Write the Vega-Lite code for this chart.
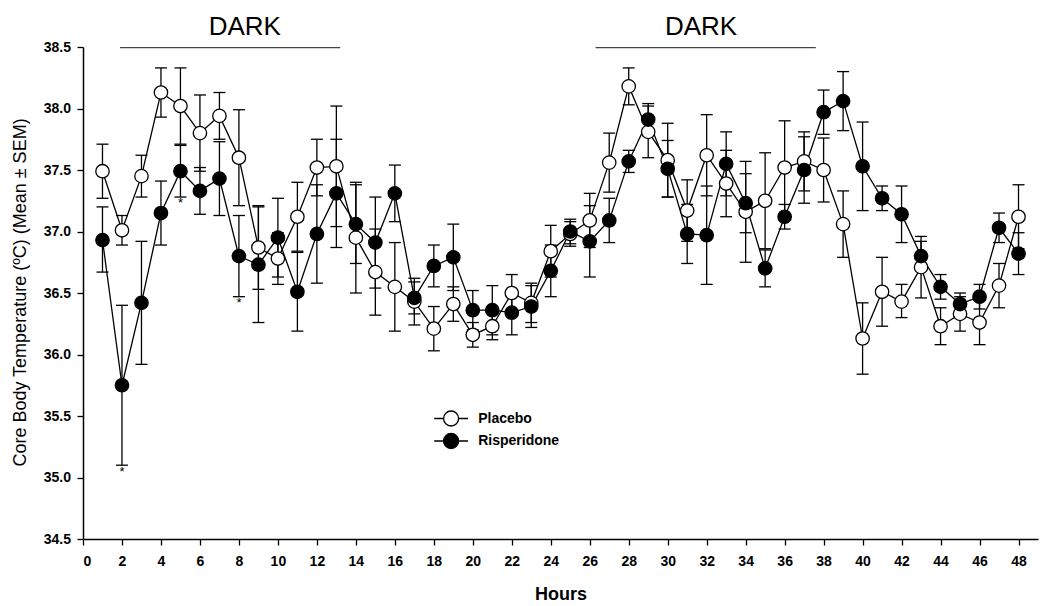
{
  "$schema": "https://vega.github.io/schema/vega-lite/v6.json",
  "width": 955,
  "height": 492,
  "autosize": {"type": "none"},
  "padding": {"left": 83, "top": 47, "right": 12, "bottom": 67},
  "background": "white",
  "config": {
    "view": {"stroke": null},
    "font": "Liberation Sans",
    "axis": {
      "grid": false,
      "domainColor": "black",
      "domainWidth": 1.5,
      "tickColor": "black",
      "tickWidth": 1.3,
      "tickSize": 6,
      "labelFont": "Liberation Sans",
      "labelFontWeight": "bold",
      "labelFontSize": 14,
      "labelColor": "black",
      "labelOverlap": false,
      "titleColor": "black",
      "titleFont": "Liberation Sans"
    },
    "axisX": {"tickCount": 25},
    "axisY": {"tickCount": 9}
  },
  "datasets": {
    "temp": [
      {"h":1,"g":"Placebo","m":37.49,"lo":37.27,"hi":37.71},
      {"h":2,"g":"Placebo","m":37.01,"lo":36.89,"hi":37.13},
      {"h":3,"g":"Placebo","m":37.45,"lo":37.28,"hi":37.62},
      {"h":4,"g":"Placebo","m":38.13,"lo":37.93,"hi":38.33},
      {"h":5,"g":"Placebo","m":38.02,"lo":37.71,"hi":38.33},
      {"h":6,"g":"Placebo","m":37.80,"lo":37.49,"hi":38.11},
      {"h":7,"g":"Placebo","m":37.94,"lo":37.75,"hi":38.13},
      {"h":8,"g":"Placebo","m":37.60,"lo":37.21,"hi":37.99},
      {"h":9,"g":"Placebo","m":36.87,"lo":36.53,"hi":37.21},
      {"h":10,"g":"Placebo","m":36.78,"lo":36.57,"hi":36.99},
      {"h":11,"g":"Placebo","m":37.12,"lo":36.84,"hi":37.40},
      {"h":12,"g":"Placebo","m":37.52,"lo":37.29,"hi":37.75},
      {"h":13,"g":"Placebo","m":37.53,"lo":37.04,"hi":38.02},
      {"h":14,"g":"Placebo","m":36.95,"lo":36.50,"hi":37.40},
      {"h":15,"g":"Placebo","m":36.67,"lo":36.32,"hi":37.02},
      {"h":16,"g":"Placebo","m":36.55,"lo":36.19,"hi":36.91},
      {"h":17,"g":"Placebo","m":36.43,"lo":36.24,"hi":36.62},
      {"h":18,"g":"Placebo","m":36.21,"lo":36.03,"hi":36.39},
      {"h":19,"g":"Placebo","m":36.41,"lo":36.27,"hi":36.55},
      {"h":20,"g":"Placebo","m":36.16,"lo":36.06,"hi":36.26},
      {"h":21,"g":"Placebo","m":36.23,"lo":36.12,"hi":36.34},
      {"h":22,"g":"Placebo","m":36.50,"lo":36.35,"hi":36.65},
      {"h":23,"g":"Placebo","m":36.42,"lo":36.26,"hi":36.58},
      {"h":24,"g":"Placebo","m":36.84,"lo":36.63,"hi":37.05},
      {"h":25,"g":"Placebo","m":36.98,"lo":36.88,"hi":37.08},
      {"h":26,"g":"Placebo","m":37.09,"lo":36.87,"hi":37.31},
      {"h":27,"g":"Placebo","m":37.56,"lo":37.32,"hi":37.80},
      {"h":28,"g":"Placebo","m":38.18,"lo":38.03,"hi":38.33},
      {"h":29,"g":"Placebo","m":37.81,"lo":37.60,"hi":38.02},
      {"h":30,"g":"Placebo","m":37.58,"lo":37.28,"hi":37.88},
      {"h":31,"g":"Placebo","m":37.17,"lo":36.92,"hi":37.42},
      {"h":32,"g":"Placebo","m":37.62,"lo":37.29,"hi":37.95},
      {"h":33,"g":"Placebo","m":37.39,"lo":37.12,"hi":37.66},
      {"h":34,"g":"Placebo","m":37.16,"lo":36.75,"hi":37.57},
      {"h":35,"g":"Placebo","m":37.25,"lo":36.86,"hi":37.64},
      {"h":36,"g":"Placebo","m":37.52,"lo":37.14,"hi":37.90},
      {"h":37,"g":"Placebo","m":37.57,"lo":37.33,"hi":37.81},
      {"h":38,"g":"Placebo","m":37.50,"lo":37.24,"hi":37.76},
      {"h":39,"g":"Placebo","m":37.06,"lo":36.79,"hi":37.33},
      {"h":40,"g":"Placebo","m":36.13,"lo":35.84,"hi":36.42},
      {"h":41,"g":"Placebo","m":36.51,"lo":36.23,"hi":36.79},
      {"h":42,"g":"Placebo","m":36.43,"lo":36.30,"hi":36.57},
      {"h":43,"g":"Placebo","m":36.71,"lo":36.46,"hi":36.96},
      {"h":44,"g":"Placebo","m":36.23,"lo":36.08,"hi":36.38},
      {"h":45,"g":"Placebo","m":36.33,"lo":36.19,"hi":36.47},
      {"h":46,"g":"Placebo","m":36.26,"lo":36.08,"hi":36.44},
      {"h":47,"g":"Placebo","m":36.56,"lo":36.38,"hi":36.74},
      {"h":48,"g":"Placebo","m":37.12,"lo":36.86,"hi":37.38},
      {"h":1,"g":"Risperidone","m":36.93,"lo":36.67,"hi":37.20},
      {"h":2,"g":"Risperidone","m":35.75,"lo":35.10,"hi":36.40},
      {"h":3,"g":"Risperidone","m":36.42,"lo":35.92,"hi":36.92},
      {"h":4,"g":"Risperidone","m":37.15,"lo":36.89,"hi":37.41},
      {"h":5,"g":"Risperidone","m":37.49,"lo":37.28,"hi":37.70},
      {"h":6,"g":"Risperidone","m":37.33,"lo":37.14,"hi":37.52},
      {"h":7,"g":"Risperidone","m":37.43,"lo":37.13,"hi":37.73},
      {"h":8,"g":"Risperidone","m":36.80,"lo":36.47,"hi":37.13},
      {"h":9,"g":"Risperidone","m":36.73,"lo":36.26,"hi":37.20},
      {"h":10,"g":"Risperidone","m":36.95,"lo":36.63,"hi":37.27},
      {"h":11,"g":"Risperidone","m":36.51,"lo":36.19,"hi":36.83},
      {"h":12,"g":"Risperidone","m":36.98,"lo":36.58,"hi":37.38},
      {"h":13,"g":"Risperidone","m":37.31,"lo":36.87,"hi":37.75},
      {"h":14,"g":"Risperidone","m":37.06,"lo":36.74,"hi":37.38},
      {"h":15,"g":"Risperidone","m":36.91,"lo":36.54,"hi":37.28},
      {"h":16,"g":"Risperidone","m":37.31,"lo":37.08,"hi":37.54},
      {"h":17,"g":"Risperidone","m":36.46,"lo":36.33,"hi":36.59},
      {"h":18,"g":"Risperidone","m":36.72,"lo":36.55,"hi":36.89},
      {"h":19,"g":"Risperidone","m":36.79,"lo":36.52,"hi":37.06},
      {"h":20,"g":"Risperidone","m":36.36,"lo":36.20,"hi":36.52},
      {"h":21,"g":"Risperidone","m":36.36,"lo":36.16,"hi":36.56},
      {"h":22,"g":"Risperidone","m":36.34,"lo":36.16,"hi":36.52},
      {"h":23,"g":"Risperidone","m":36.39,"lo":36.22,"hi":36.56},
      {"h":24,"g":"Risperidone","m":36.68,"lo":36.47,"hi":36.89},
      {"h":25,"g":"Risperidone","m":37.00,"lo":36.90,"hi":37.10},
      {"h":26,"g":"Risperidone","m":36.92,"lo":36.63,"hi":37.21},
      {"h":27,"g":"Risperidone","m":37.09,"lo":36.91,"hi":37.27},
      {"h":28,"g":"Risperidone","m":37.57,"lo":37.48,"hi":37.66},
      {"h":29,"g":"Risperidone","m":37.91,"lo":37.78,"hi":38.04},
      {"h":30,"g":"Risperidone","m":37.51,"lo":37.28,"hi":37.74},
      {"h":31,"g":"Risperidone","m":36.98,"lo":36.74,"hi":37.22},
      {"h":32,"g":"Risperidone","m":36.97,"lo":36.57,"hi":37.37},
      {"h":33,"g":"Risperidone","m":37.55,"lo":37.29,"hi":37.81},
      {"h":34,"g":"Risperidone","m":37.23,"lo":36.99,"hi":37.47},
      {"h":35,"g":"Risperidone","m":36.70,"lo":36.55,"hi":36.85},
      {"h":36,"g":"Risperidone","m":37.12,"lo":37.02,"hi":37.22},
      {"h":37,"g":"Risperidone","m":37.50,"lo":37.23,"hi":37.77},
      {"h":38,"g":"Risperidone","m":37.97,"lo":37.79,"hi":38.15},
      {"h":39,"g":"Risperidone","m":38.06,"lo":37.82,"hi":38.30},
      {"h":40,"g":"Risperidone","m":37.53,"lo":37.17,"hi":37.89},
      {"h":41,"g":"Risperidone","m":37.27,"lo":37.17,"hi":37.37},
      {"h":42,"g":"Risperidone","m":37.14,"lo":36.91,"hi":37.37},
      {"h":43,"g":"Risperidone","m":36.80,"lo":36.68,"hi":36.92},
      {"h":44,"g":"Risperidone","m":36.55,"lo":36.45,"hi":36.65},
      {"h":45,"g":"Risperidone","m":36.41,"lo":36.32,"hi":36.50},
      {"h":46,"g":"Risperidone","m":36.47,"lo":36.37,"hi":36.57},
      {"h":47,"g":"Risperidone","m":37.03,"lo":36.91,"hi":37.15},
      {"h":48,"g":"Risperidone","m":36.82,"lo":36.65,"hi":36.99}
    ],
    "dark": [
      {"x": 8.3, "y": 38.596, "t": "DARK"},
      {"x": 31.71, "y": 38.596, "t": "DARK"}
    ],
    "bar": [
      {"x1": 1.9, "x2": 13.2, "y": 38.495},
      {"x1": 26.3, "x2": 37.6, "y": 38.495}
    ],
    "star": [
      {"h": 2, "y": 35.077},
      {"h": 5, "y": 37.258},
      {"h": 8, "y": 36.45}
    ]
  },
  "layer": [
    {
      "data": {"name": "temp"},
      "mark": {"type": "rule", "color": "black", "strokeWidth": 1.3},
      "encoding": {
        "x": {"field": "h", "type": "quantitative", "scale": {"domain": [0, 49], "nice": false, "zero": false},
              "axis": {"title": "Hours", "values": [0,2,4,6,8,10,12,14,16,18,20,22,24,26,28,30,32,34,36,38,40,42,44,46,48],
                       "tickCount": 25, "labelOverlap": false,
                       "labelPadding": 9, "titleFontSize": 18, "titleFontWeight": "bold",
                       "titleBaseline": "alphabetic", "titleY": 60, "titleX": 477.5}},
        "y": {"field": "lo", "type": "quantitative", "scale": {"domain": [34.5, 38.5], "nice": false, "zero": false},
              "axis": {"title": "Core Body Temperature (ºC) (Mean ± SEM)", "values": [34.5,35,35.5,36,36.5,37,37.5,38,38.5],
                       "tickCount": 9, "labelOverlap": false,
                       "format": ".1f", "labelPadding": 6.5, "titleFontSize": 18, "titleFontWeight": "normal",
                       "titleAngle": -90, "titleBaseline": "alphabetic", "titleAlign": "center", "titleX": -58, "titleY": 245}},
        "y2": {"field": "hi"},
        "detail": {"field": "g"}
      }
    },
    {
      "data": {"name": "temp"},
      "mark": {"type": "tick", "orient": "horizontal", "color": "black", "size": 12, "thickness": 1.3, "opacity": 1},
      "encoding": {
        "x": {"field": "h", "type": "quantitative"},
        "y": {"field": "lo", "type": "quantitative"}
      }
    },
    {
      "data": {"name": "temp"},
      "mark": {"type": "tick", "orient": "horizontal", "color": "black", "size": 12, "thickness": 1.3, "opacity": 1},
      "encoding": {
        "x": {"field": "h", "type": "quantitative"},
        "y": {"field": "hi", "type": "quantitative"}
      }
    },
    {
      "data": {"name": "temp"},
      "mark": {"type": "line", "color": "black", "strokeWidth": 1.3},
      "encoding": {
        "x": {"field": "h", "type": "quantitative"},
        "y": {"field": "m", "type": "quantitative"},
        "detail": {"field": "g"},
        "order": {"field": "h", "type": "quantitative"}
      }
    },
    {
      "data": {"name": "temp"},
      "mark": {"type": "point", "shape": "circle", "filled": true, "size": 180, "stroke": "black", "strokeWidth": 1.3, "opacity": 1},
      "encoding": {
        "x": {"field": "h", "type": "quantitative"},
        "y": {"field": "m", "type": "quantitative"},
        "fill": {"field": "g", "type": "nominal",
                 "scale": {"domain": ["Placebo", "Risperidone"], "range": ["white", "black"]},
                 "legend": {"title": null, "orient": "none", "legendX": 357.6, "legendY": 361,
                            "symbolType": "M-1.8,0H-0.8M0.8,0H1.8M0.8,0A0.8,0.8,0,1,1,-0.8,0A0.8,0.8,0,1,1,0.8,0Z",
                            "symbolSize": 353, "symbolStrokeColor": "black", "symbolStrokeWidth": 1.3, "symbolOpacity": 1,
                            "labelFont": "Liberation Sans", "labelFontWeight": "bold", "labelFontSize": 14, "labelColor": "black",
                            "labelOffset": 16.6, "rowPadding": 1.5, "padding": 0}}
      }
    },
    {
      "data": {"name": "bar"},
      "mark": {"type": "rule", "color": "#444", "strokeWidth": 1.2},
      "encoding": {
        "x": {"field": "x1", "type": "quantitative"},
        "x2": {"field": "x2"},
        "y": {"field": "y", "type": "quantitative"}
      }
    },
    {
      "data": {"name": "dark"},
      "mark": {"type": "text", "font": "Liberation Sans", "fontSize": 26, "color": "black", "align": "center", "baseline": "alphabetic"},
      "encoding": {
        "x": {"field": "x", "type": "quantitative"},
        "y": {"field": "y", "type": "quantitative"},
        "text": {"field": "t"}
      }
    },
    {
      "data": {"name": "star"},
      "mark": {"type": "text", "font": "Liberation Sans", "fontSize": 13, "color": "black", "align": "center", "baseline": "alphabetic", "dy": 7.5, "text": "*"},
      "encoding": {
        "x": {"field": "h", "type": "quantitative"},
        "y": {"field": "y", "type": "quantitative"}
      }
    }
  ]
}
